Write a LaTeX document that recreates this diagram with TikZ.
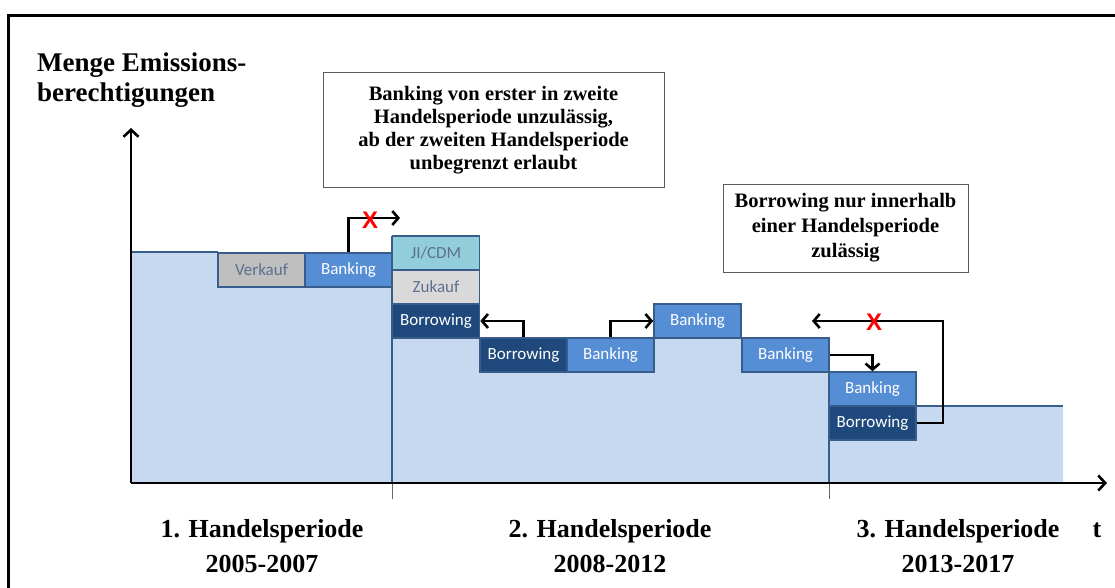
\documentclass[tikz,border=0pt]{standalone}
\usepackage{fontspec}
\setmainfont{Liberation Serif}
\newfontfamily\cellfont{Carlito}
\newfontfamily\xfont{Liberation Sans}
\usetikzlibrary{arrows.meta}
\definecolor{fillblue}{HTML}{C6D9F1}
\definecolor{edgeblue}{HTML}{385D8A}
\definecolor{bankblue}{HTML}{558ED5}
\definecolor{borblue}{HTML}{1F497D}
\definecolor{jicol}{HTML}{92CDDC}
\definecolor{verkcol}{HTML}{BFBFBF}
\definecolor{zukcol}{HTML}{D9D9D9}
\definecolor{softtext}{HTML}{5E7090}
\tikzset{
  cell/.style={draw=edgeblue, line width=1.6pt, minimum width=87pt, minimum height=34pt,
    inner sep=0pt, font=\cellfont\fontsize{17}{20}\selectfont},
  bankcell/.style={cell, fill=bankblue, text=white},
  borcell/.style={cell, fill=borblue, text=white},
  softcell/.style={cell, text=softtext},
  flowarrow/.style={line width=2.6pt, -{Straight Barb[length=6pt,width=14pt,line width=2.6pt]}},
  axisarrow/.style={line width=2.8pt, -{Straight Barb[length=7pt,width=15pt,line width=2.6pt]}},
  notebox/.style={draw=black!65, line width=1pt, fill=white, align=center,
    font=\bfseries\fontsize{20.5}{23}\selectfont, inner sep=0pt},
  crossmark/.style={text=red, font=\xfont\bfseries\fontsize{24}{24}\selectfont, inner sep=0pt},
  periodlabel/.style={align=center, font=\bfseries\fontsize{26}{35}\selectfont, inner sep=0pt},
}
\begin{document}
\begin{tikzpicture}[x=1pt,y=-1pt]
\useasboundingbox (0,0) rectangle (1115,588);
% outer frame
\draw[line width=3pt] (8.5,15.5) rectangle (1130,600);
% blue region
\fill[fillblue] (131,252) -- (392,252) -- (392,338) -- (480,338) -- (480,372) -- (654,372)
  -- (654,338) -- (742,338) -- (742,372) -- (829,372) -- (829,440) -- (916,440)
  -- (916,406) -- (1063,406) -- (1063,483) -- (131,483) -- cycle;
\draw[edgeblue, line width=1.6pt] (131,252) -- (218,252);
\draw[edgeblue, line width=1.6pt] (916,406) -- (1063,406);
\draw[edgeblue, line width=1.6pt] (392,236) -- (392,483);
\draw[edgeblue, line width=1.6pt] (829,372) -- (829,483);
\draw[black!60, line width=0.6pt] (392,483) -- (392,499);
\draw[black!60, line width=0.6pt] (829,483) -- (829,499);
% cells
\node[softcell, fill=verkcol] (verk) at (261.5,270) {Verkauf};
\node[bankcell] (bank1) at (348.5,270) {Banking};
\node[softcell, fill=jicol] (ji) at (436,253) {JI/CDM};
\node[softcell, fill=zukcol] (zuk) at (436,287) {Zukauf};
\node[borcell] (bor1) at (436,321) {Borrowing};
\node[borcell] (bor2) at (523.5,355) {Borrowing};
\node[bankcell] (bank2) at (610.5,355) {Banking};
\node[bankcell] (bank3) at (697.5,321) {Banking};
\node[bankcell] (bank4) at (785.5,355) {Banking};
\node[bankcell] (bank5) at (872.5,389) {Banking};
\node[borcell] (bor3) at (872.5,423) {Borrowing};
% axes
\coordinate (origin) at (131,483);
\coordinate (ytip) at (131,128);
\coordinate (xtip) at (1107,483);
\draw[axisarrow] (origin) -- (ytip);
\draw[axisarrow] (origin) -- (xtip);
% flow arrows
\coordinate (end1) at (400,218);
\draw[flowarrow] (bank1.north) |- (end1);
\node[crossmark] (x1) at (370,220) {X};
\draw[flowarrow] (bor2.north) |- (bor1.east);
\draw[flowarrow] (bank2.north) |- (bank3.west);
\draw[flowarrow] (bank4.east) -| (bank5.north);
\coordinate (turn5) at (943,321);
\coordinate (end5) at (812,321);
\draw[flowarrow] (bor3.east) -| (turn5) -- (end5);
\node[crossmark] (x2) at (874,322) {X};
% notes
\node[notebox, minimum width=341pt, minimum height=114pt] (note1) at (493.5,130)
  {Banking von erster in zweite\\Handelsperiode unzulässig,\\ab der zweiten Handelsperiode\\unbegrenzt erlaubt};
\node[notebox, minimum width=245pt, minimum height=88pt, font=\bfseries\fontsize{20.5}{25}\selectfont] (note2) at (845.5,228)
  {Borrowing nur innerhalb\\einer Handelsperiode\\zulässig};
% labels
\node[anchor=base west, align=left, inner sep=0pt, font=\bfseries\fontsize{27}{30}\selectfont] (ylabel) at (37,102)
  {Menge Emissions-\\berechtigungen};
\node[periodlabel, anchor=base] (p1) at (262,572) {1. Handelsperiode\\2005-2007};
\node[periodlabel, anchor=base] (p2) at (610,572) {2. Handelsperiode\\2008-2012};
\node[periodlabel, anchor=base] (p3) at (958,572) {3. Handelsperiode\\2013-2017};
\node[anchor=base, inner sep=0pt, font=\bfseries\fontsize{26}{26}\selectfont] (tlabel) at (1097,537) {t};
\end{tikzpicture}
\end{document}
